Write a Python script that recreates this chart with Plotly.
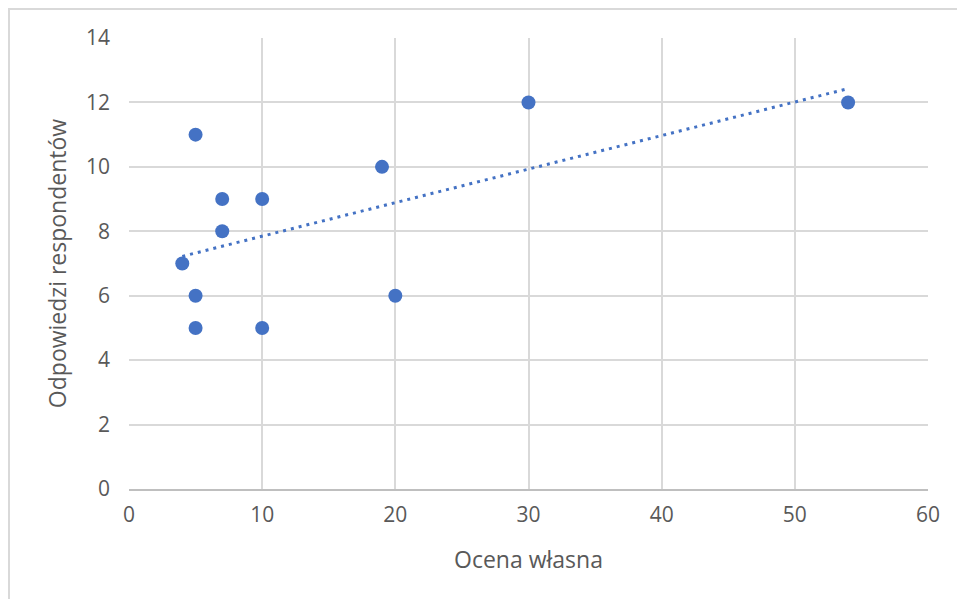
import numpy as np
import plotly.graph_objects as go

# Self-assessment score vs. respondents' answers
ocena_wlasna = [4, 5, 5, 5, 7, 7, 10, 10, 19, 20, 30, 54]
odpowiedzi = [7, 11, 6, 5, 9, 8, 9, 5, 10, 6, 12, 12]

x_ticks = [0, 10, 20, 30, 40, 50, 60]
y_ticks = [0, 2, 4, 6, 8, 10, 12, 14]

BLUE = "#4472C4"
GRID = "#D9D9D9"
TEXT = "#595959"
FONT = "Open Sans, Lato, sans-serif"

# Linear trendline over the data range
slope, intercept = np.polyfit(ocena_wlasna, odpowiedzi, 1)
tx = np.array([min(ocena_wlasna), max(ocena_wlasna)])
ty = slope * tx + intercept

fig = go.Figure()
fig.add_trace(go.Scatter(
    x=tx, y=ty, mode="lines",
    line=dict(color=BLUE, width=3, dash="3px,5px"),
    hoverinfo="skip", showlegend=False,
))
fig.add_trace(go.Scatter(
    x=ocena_wlasna, y=odpowiedzi, mode="markers",
    marker=dict(color=BLUE, size=14, line=dict(width=0)),
    showlegend=False,
))

fig.update_layout(
    width=957, height=599,
    margin=dict(l=129, r=29, t=38, b=110),
    paper_bgcolor="white", plot_bgcolor="white",
    font=dict(family=FONT, size=21, color=TEXT),
    xaxis=dict(
        range=[0, 60], tickvals=x_ticks, showgrid=True, gridcolor=GRID, gridwidth=2,
        zeroline=False, showline=True, linecolor="#BFBFBF", linewidth=2,
        ticks="", ticklabelstandoff=6, tickfont=dict(size=21, color=TEXT),
        title=dict(text="Ocena własna", font=dict(size=23, color=TEXT), standoff=25),
    ),
    yaxis=dict(
        range=[0, 14], tickvals=y_ticks, showgrid=True, gridcolor=GRID, gridwidth=2,
        zeroline=False, showline=False, ticks="", ticklabelstandoff=18,
        tickfont=dict(size=21, color=TEXT),
        title=dict(text="Odpowiedzi respondentów", font=dict(size=23, color=TEXT), standoff=12),
    ),
)

# Outer chart frame: top and left edges
fig.add_shape(type="line", xref="x domain", yref="y domain",
              x0=(8 - 129) / 799, x1=(957 - 129) / 799,
              y0=(489 - 9) / 451, y1=(489 - 9) / 451,
              line=dict(color="#D9D9D9", width=2), layer="below")
fig.add_shape(type="line", xref="x domain", yref="y domain",
              x0=(9 - 129) / 799, x1=(9 - 129) / 799,
              y0=(489 - 9) / 451, y1=(489 - 600) / 451,
              line=dict(color="#D9D9D9", width=2), layer="below")

fig.write_html("out.html")
